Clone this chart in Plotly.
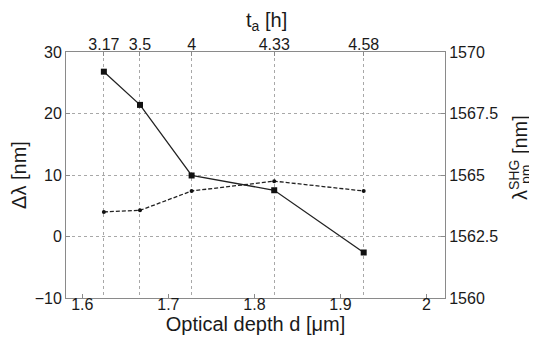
import plotly.graph_objects as go

# Data
depth_d = [1.625, 1.667, 1.727, 1.823, 1.927]          # optical depth d [um]
time_labels = ["3.17", "3.5", "4", "4.33", "4.58"]     # t_a [h]
delta_lambda = [4.0, 4.25, 7.4, 9.0, 7.4]              # Δλ [nm] (left axis)
lambda_pm = [1569.2, 1567.85, 1564.98, 1564.38, 1561.85]  # λ_pm^SHG [nm] (right axis)

FONT = "Liberation Sans, Arial, sans-serif"
AX = "#8a8a8a"
GRID = "#a8a8a8"
TXT = "#1a1a1a"

fig = go.Figure()
fig.add_trace(go.Scatter(
    x=depth_d, y=delta_lambda, xaxis="x", yaxis="y", mode="lines+markers",
    line=dict(color="#222222", width=1.3, dash="4px,2px"),
    marker=dict(symbol="circle", size=4, color="#111111"), showlegend=False))
fig.add_trace(go.Scatter(
    x=depth_d, y=lambda_pm, xaxis="x2", yaxis="y2", mode="lines+markers",
    line=dict(color="#222222", width=1.3),
    marker=dict(symbol="square", size=6, color="#111111"), showlegend=False))

xr = [1.581, 2.0215]
fig.update_layout(
    width=529, height=331,
    margin=dict(l=58, r=92, t=44, b=41),
    paper_bgcolor="white", plot_bgcolor="white",
    font=dict(family=FONT, size=16, color=TXT),
    xaxis=dict(range=xr, tickvals=[1.6, 1.7, 1.8, 1.9, 2.0], ticktext=["1.6", "1.7", "1.8", "1.9", "2"],
               ticks="inside", ticklen=4, tickcolor=AX, showgrid=False, zeroline=False,
               showline=True, linecolor=AX, linewidth=1, automargin=False, ticklabelstandoff=-8,
               title=dict(text="Optical depth d [μm]", font=dict(size=20), standoff=0)),
    xaxis2=dict(range=xr, overlaying="x", side="top", anchor="y2",
                tickvals=depth_d, ticktext=time_labels, ticklabelstandoff=-5,
                ticks="inside", ticklen=4, tickcolor=AX, automargin=False,
                showgrid=True, gridcolor=GRID, griddash="dot", gridwidth=1, zeroline=False,
                showline=True, linecolor=AX, linewidth=1,
                title=dict(text="&nbsp;&nbsp;&nbsp;&nbsp;t<sub>a</sub> [h]", font=dict(size=20), standoff=2)),
    yaxis=dict(range=[-10, 30], tickvals=[-10, 0, 10, 20, 30],
               ticks="inside", ticklen=4, tickcolor=AX, automargin=False,
               showgrid=True, gridcolor=GRID, griddash="dot", gridwidth=1, zeroline=False,
               showline=True, linecolor=AX, linewidth=1,
               title=dict(text="Δλ [nm]", font=dict(size=20), standoff=5)),
    yaxis2=dict(range=[1560, 1570], tickvals=[1560, 1562.5, 1565, 1567.5, 1570],
                ticktext=["1560", "1562.5", "1565", "1567.5", "1570"],
                overlaying="y", side="right", anchor="x", automargin=False,
                ticks="inside", ticklen=4, tickcolor=AX, showgrid=False, zeroline=False,
                showline=True, linecolor=AX, linewidth=1),
)

def px_to_paper(px, py):
    # screen pixels (plot area 66..445 x, 52..298 y) -> paper coords
    return (px - 66) / 379.0, (298 - py) / 246.0

x1, y1 = px_to_paper(518, 158)
fig.add_annotation(text="λ<sup>SHG</sup> [nm]", xref="paper", yref="paper", x=x1, y=y1,
                   textangle=-90, showarrow=False, font=dict(size=20, family=FONT, color=TXT),
                   xanchor="center", yanchor="middle")
x2, y2 = px_to_paper(526, 175)
fig.add_annotation(text="pm", xref="paper", yref="paper", x=x2, y=y2,
                   textangle=-90, showarrow=False, font=dict(size=14, family=FONT, color=TXT),
                   xanchor="center", yanchor="middle")

fig.write_html("out.html")
